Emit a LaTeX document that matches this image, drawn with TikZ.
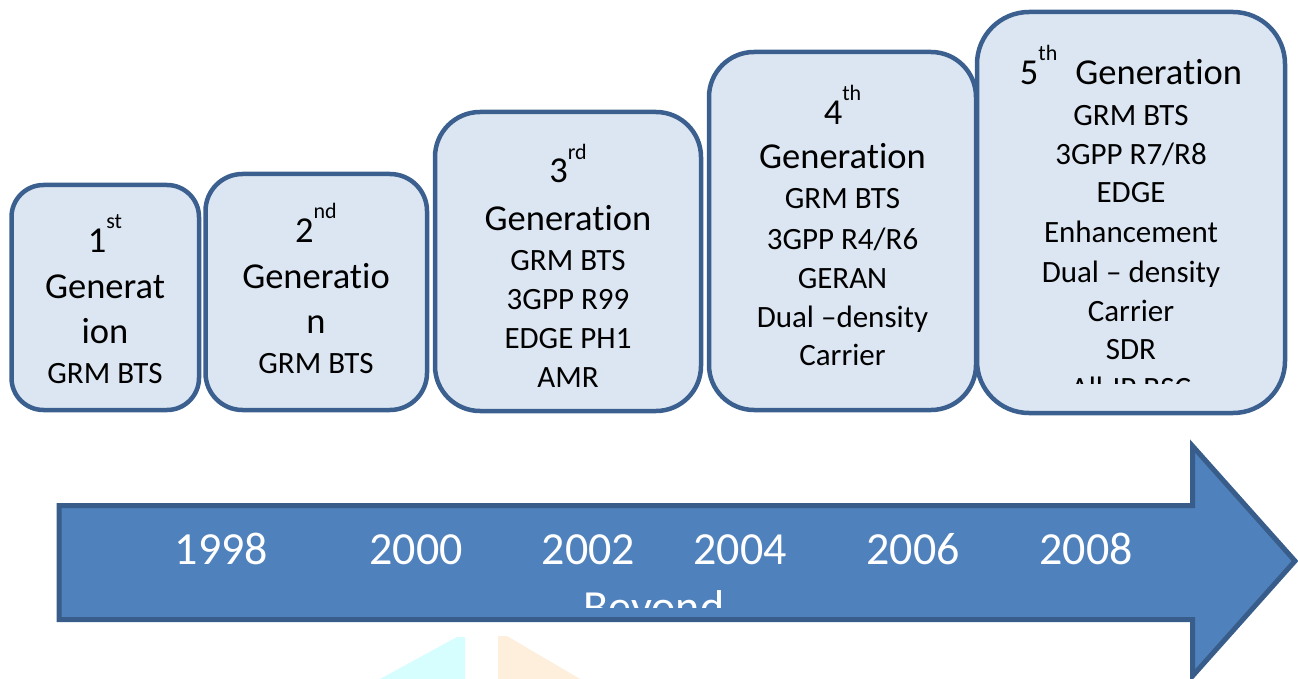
\documentclass[tikz,border=0pt]{standalone}
\usepackage{fontspec}
\setmainfont{Carlito}[RawFeature={-liga;-clig;-calt;-dlig}]
\definecolor{boxfill}{HTML}{DCE6F2}
\definecolor{boxline}{HTML}{3B608F}
\definecolor{arrfill}{HTML}{4F81BD}
\definecolor{arrline}{HTML}{385D8A}
\definecolor{wmcyan}{HTML}{D6FEFE}
\definecolor{wmpeach}{HTML}{FEEEDC}
\newcommand\genbig{\fontsize{36.5}{44}\selectfont}
\newcommand\gensmall{\fontsize{31}{38}\selectfont}
\newcommand\genyear{\fontsize{46}{56}\selectfont}
\newcommand\gensup[1]{\raisebox{24pt}{\fontsize{22}{22}\selectfont #1}}
\tikzset{
  genbox/.style={draw=boxline, fill=boxfill, line width=4.5pt, inner sep=0pt, outer sep=0pt},
  bigline/.style={anchor=base, inner sep=0pt, font=\genbig},
  smline/.style={anchor=base, inner sep=0pt, font=\gensmall},
  yearlbl/.style={anchor=base, inner sep=0pt, font=\genyear, text=white},
}
\begin{document}
\begin{tikzpicture}[x=1pt, y=-1pt]
\useasboundingbox (0,0) rectangle (1298,679);
% watermark
\fill[wmcyan] (380,679) -- (457,637) -- (465,637) -- (465,679) -- cycle;
\fill[wmpeach] (498,636) -- (507,636) -- (580,679) -- (498,679) -- cycle;
% boxes
\node[genbox, rounded corners=32pt, minimum width=187.5pt, minimum height=225pt] (g1) at (105.25,297.5) {};
\node[genbox, rounded corners=37pt, minimum width=221.5pt, minimum height=236pt] (g2) at (316.25,292) {};
\node[genbox, rounded corners=45pt, minimum width=266pt, minimum height=299pt] (g3) at (568,261.5) {};
\node[genbox, rounded corners=45pt, minimum width=267pt, minimum height=358pt] (g4) at (842.5,231) {};
\node[genbox, rounded corners=52pt, minimum width=308pt, minimum height=401pt] (g5) at (1131,212.5) {};
% box 1
\node[bigline] (g1a) at (105,252) {1\gensup{st}};
\node[bigline] (g1b) at (105,298) {Generat};
\node[bigline] (g1c) at (105,343) {ion};
\node[smline] (g1d) at (105,383) {GRM BTS};
% box 2
\node[bigline] (g2a) at (316,242) {2\gensup{nd}};
\node[bigline] (g2b) at (316,288) {Generat\kern0pt io};
\node[bigline] (g2c) at (316,333) {n};
\node[smline] (g2d) at (316,373) {GRM BTS};
% box 3
\node[bigline] (g3a) at (568,183) {3\gensup{rd}};
\node[bigline] (g3b) at (568,230) {Generat\kern0pt ion};
\node[smline] (g3c) at (568,270) {GRM BTS};
\node[smline] (g3d) at (568,309) {3GPP R99};
\node[smline] (g3e) at (568,348) {EDGE PH1};
\node[smline] (g3f) at (568,387) {AMR};
% box 4
\node[bigline] (g4a) at (842.5,125) {4\gensup{th}};
\node[bigline] (g4b) at (842.5,169) {Generat\kern0pt ion};
\node[smline] (g4c) at (842.5,209) {GRM BTS};
\node[smline] (g4d) at (842.5,249) {3GPP R4/R6};
\node[smline] (g4e) at (842.5,288) {GERAN};
\node[smline] (g4f) at (842.5,327) {Dual –density};
\node[smline] (g4g) at (842.5,365) {Carrier};
% box 5
\node[bigline] (g5a) at (1131,85) {5\gensup{th}\hspace{18pt}Generat\kern0pt ion};
\node[smline] (g5b) at (1131,126) {GRM BTS};
\node[smline] (g5c) at (1131,165) {3GPP R7/R8};
\node[smline] (g5d) at (1131,203) {EDGE};
\node[smline] (g5e) at (1131,243) {Enhancement};
\node[smline] (g5f) at (1131,282) {Dual – density};
\node[smline] (g5g) at (1131,321) {Carrier};
\node[smline] (g5h) at (1131,359) {SDR};
\begin{scope}
\clip (980,0) rectangle (1280,383);
\node[smline] (g5i) at (1131,398) {All-IP BSC};
\end{scope}
% arrow
\draw[fill=arrfill, draw=arrline, line width=5pt, line join=miter]
  (59,505.5) -- (1192.5,505.5) -- (1192.5,446) -- (1295,561) -- (1192.5,676) -- (1192.5,619.5) -- (59,619.5) -- cycle;
\node[yearlbl] (y1) at (221.5,564) {1998};
\node[yearlbl] (y2) at (416,564) {2000};
\node[yearlbl] (y3) at (588.5,564) {2002};
\node[yearlbl] (y4) at (740,564) {2004};
\node[yearlbl] (y5) at (913,564) {2006};
\node[yearlbl] (y6) at (1086,564) {2008};
\begin{scope}
\clip (60,508) rectangle (1190,607);
\node[yearlbl] (y7) at (654,622) {Beyond};
\end{scope}
\end{tikzpicture}
\end{document}
